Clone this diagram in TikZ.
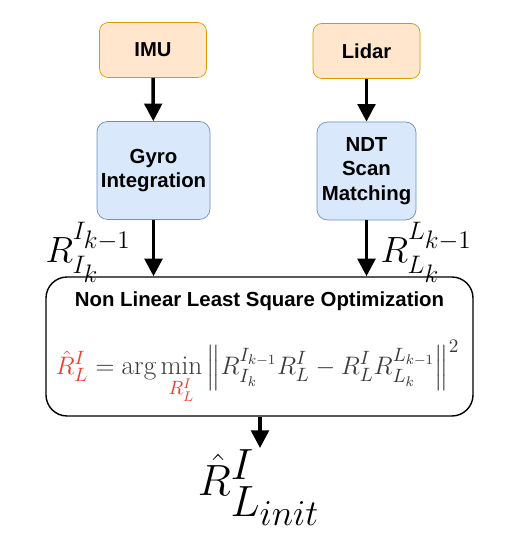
\documentclass[tikz,border=0pt]{standalone}
\usepackage{amsmath,fontspec}
\usetikzlibrary{arrows.meta,positioning}
\newfontfamily\boxfont{Liberation Sans}
\DeclareMathSizes{20}{20}{15.5}{13.5}
\DeclareMathSizes{26}{26}{23}{20}
\definecolor{srcfill}{HTML}{FFE6CC}
\definecolor{srcdraw}{HTML}{D79B00}
\definecolor{procfill}{HTML}{DAE8FC}
\definecolor{procdraw}{HTML}{6C8EBF}
\definecolor{estred}{HTML}{E8402F}
\definecolor{eqgrey}{HTML}{3A3A3A}

\begin{document}
\begin{tikzpicture}[
  src/.style={draw=srcdraw,fill=srcfill,rounded corners=5pt,minimum height=1.1cm,minimum width=2.14cm,align=center,font=\boxfont\fontsize{11.5}{13}\selectfont\bfseries},
  proc/.style={draw=procdraw,fill=procfill,rounded corners=6pt,minimum height=1.96cm,align=center,font=\boxfont\fontsize{11.6}{14}\selectfont\bfseries,inner sep=1pt},
  arr/.style={-{Triangle[length=10pt,width=10pt]},line width=2pt,color=black},
  lbl/.style={inner sep=0pt,font=\fontsize{20}{23}\selectfont}]
\useasboundingbox (0,0) rectangle (10.6,10.88);
\node[src] (imu) at (3.06,9.88) {IMU};
\node[src] (lidar) at (7.33,9.86) {Lidar};
\node[proc,minimum width=2.26cm] (gyro) at (3.07,7.47) {Gyro\\Integration};
\node[proc,minimum width=1.98cm] (ndt) at (7.33,7.46) {NDT\\Scan\\Matching};
\node[draw,line width=0.8pt,rounded corners=12pt,minimum width=8.54cm,minimum height=2.78cm] (opt) at (5.19,3.95) {};
\node[font=\boxfont\fontsize{11.6}{13}\selectfont\bfseries] (title) at (5.19,4.86) {Non Linear Least Square Optimization};
\node[inner sep=0pt,font=\fontsize{15.5}{18}\selectfont,text=eqgrey] (eq) at (5.15,3.44)
  {$\displaystyle \textcolor{estred}{\hat{R}^I_L} = \arg\min_{\textcolor{estred}{R^I_L}} \left\| R^{I_{k-1}}_{I_k} R^I_L - R^I_L R^{L_{k-1}}_{L_k}\right\|^2$};
\node[lbl] (rimu) at (1.77,5.84) {$R^{I_{k-1}}_{I_k}$};
\node[lbl] (rlidar) at (8.53,5.84) {$R^{L_{k-1}}_{L_k}$};
\coordinate (outend) at (5.2,1.92);
\node[inner sep=0pt,font=\fontsize{26}{30}\selectfont] (out) at (5.18,1.13) {$\hat{R}^I_{L_{init}}$};
% connectors
\draw[arr] (imu)--(gyro); \draw[arr] (lidar)--(ndt);
\draw[arr] (gyro.south) -- (gyro.south |- opt.north);
\draw[arr] (ndt.south) -- (ndt.south |- opt.north);
\draw[arr] (opt.south -| outend) -- (outend);
\end{tikzpicture}
\end{document}
